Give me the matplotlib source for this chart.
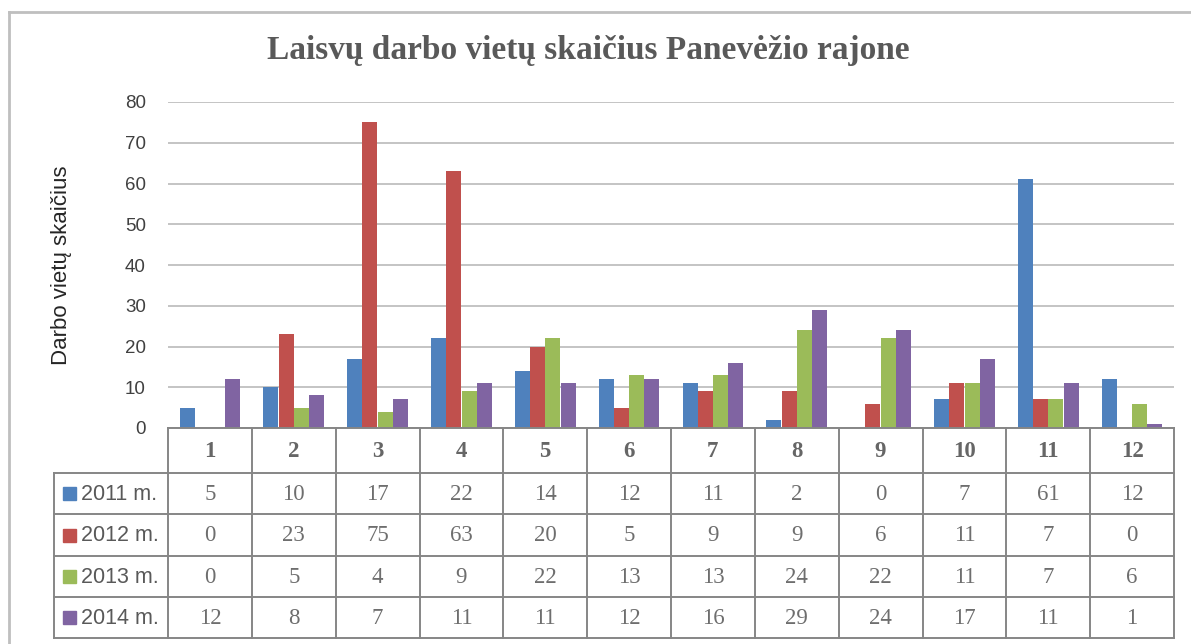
import matplotlib
matplotlib.use("Agg")
import matplotlib.pyplot as plt
from matplotlib.patches import Rectangle
from matplotlib.lines import Line2D

months = ["1", "2", "3", "4", "5", "6", "7", "8", "9", "10", "11", "12"]
series_names = ["2011 m.", "2012 m.", "2013 m.", "2014 m."]
v2011 = [5, 10, 17, 22, 14, 12, 11, 2, 0, 7, 61, 12]
v2012 = [0, 23, 75, 63, 20, 5, 9, 9, 6, 11, 7, 0]
v2013 = [0, 5, 4, 9, 22, 13, 13, 24, 22, 11, 7, 6]
v2014 = [12, 8, 7, 11, 11, 12, 16, 29, 24, 17, 11, 1]
yticks = [0, 10, 20, 30, 40, 50, 60, 70, 80]
title = "Laisvų darbo vietų skaičius Panevėžio rajone"
ylabel = "Darbo vietų skaičius"

colors = ["#4F81BD", "#C0504D", "#9BBB59", "#8064A2"]
series = [v2011, v2012, v2013, v2014]

W, H = 1191, 644
fig = plt.figure(figsize=(W / 100, H / 100), dpi=100)

def fx(px):
    return px / W

def fy(py):
    return 1 - py / H

# chart border
fig.add_artist(Line2D([fx(9), fx(9)], [fy(12), 0], color="#BFBFBF", lw=2))
fig.add_artist(Line2D([fx(9), 1], [fy(12), fy(12)], color="#BFBFBF", lw=2))

x0, x1 = 168, 1174
ytop, ybot = 102, 428
ax = fig.add_axes([fx(x0), fy(ybot), fx(x1) - fx(x0), fy(ytop) - fy(ybot)])
ax.set_xlim(0, 12)
ax.set_ylim(0, 80)
for s in ax.spines.values():
    s.set_visible(False)
ax.set_yticks(yticks)
ax.set_xticks([])
ax.tick_params(axis="y", length=0, pad=16, labelsize=13.5, labelcolor="#404040")
for lab in ax.get_yticklabels():
    lab.set_fontfamily("Liberation Sans")
ax.yaxis.grid(True, color="#BFBFBF", lw=1.3)
ax.set_axisbelow(True)

bw = 0.179
offsets = [-0.273, -0.091, 0.091, 0.273]
for vals, c, off in zip(series, colors, offsets):
    xs = [i + 0.5 + off for i in range(len(months))]
    ax.bar(xs, vals, width=bw, color=c, zorder=3)

fig.text(fx(62), fy(265), ylabel, rotation=90, ha="center", va="center",
         fontsize=16, color="#262626", family="Liberation Sans")

fig.text(fx(588), fy(50), title, ha="center", va="center", fontsize=24,
         fontweight="bold", family="Liberation Serif", color="#595959")

# data table
tab = fig.add_axes([fx(x0), fy(638), fx(x1) - fx(x0), fy(428) - fy(638)])
tab.set_xlim(0, 12)
tab.set_ylim(638, 428)
tab.axis("off")
rows = [428, 473, 514, 556, 597, 638]
lc = "#868686"
lw = 1.4
cw = (x1 - x0) / 12.0
legx = -(x0 - 54) / cw
# horizontal lines
tab.plot([0, 12], [rows[0], rows[0]], color=lc, lw=lw, clip_on=False)
for r in rows[1:]:
    tab.plot([legx, 12], [r, r], color=lc, lw=lw, clip_on=False)
# vertical lines
for i in range(13):
    tab.plot([i, i], [rows[0], rows[-1]], color=lc, lw=lw, clip_on=False)
tab.plot([legx, legx], [rows[1], rows[-1]], color=lc, lw=lw, clip_on=False)

for i, m in enumerate(months):
    tab.text(i + 0.5, (rows[0] + rows[1]) / 2 + 1, m, ha="center", va="center",
             fontsize=16.5, fontweight="bold", family="Liberation Serif", color="#666666")
for k, (vals, name, c) in enumerate(zip(series, series_names, colors)):
    yc = (rows[k + 1] + rows[k + 2]) / 2 + 1
    for i, v in enumerate(vals):
        tab.text(i + 0.5, yc, str(v), ha="center", va="center", fontsize=16.5,
                 family="Liberation Serif", color="#6E6E6E")
    sx = -(x0 - 63) / cw
    tab.add_patch(Rectangle((sx, yc - 7), 13 / cw, 13, color=c, clip_on=False))
    tab.text(-(x0 - 81) / cw, yc, name, ha="left", va="center", fontsize=15.5,
             family="Liberation Sans", color="#595959")

fig.savefig("out.png", dpi=100)
